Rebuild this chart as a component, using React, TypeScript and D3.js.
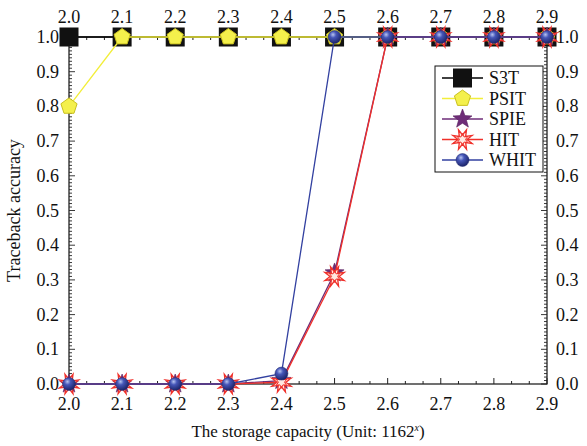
import React from "react";
import * as d3 from "d3";

const capacities = [2.0, 2.1, 2.2, 2.3, 2.4, 2.5, 2.6, 2.7, 2.8, 2.9];
const s3t = [1, 1, 1, 1, 1, 1, 1, 1, 1, 1];
const psit = [0.8, 1, 1, 1, 1, 1, 1, 1, 1, 1];
const spie = [0, 0, 0, 0, 0.01, 0.32, 1, 1, 1, 1];
const hit = [0, 0, 0, 0, 0.005, 0.31, 1, 1, 1, 1];
const whit = [0, 0, 0, 0, 0.03, 1, 1, 1, 1, 1];
const xTickLabels = ["2.0", "2.1", "2.2", "2.3", "2.4", "2.5", "2.6", "2.7", "2.8", "2.9"];
const yTickLabels = ["0.0", "0.1", "0.2", "0.3", "0.4", "0.5", "0.6", "0.7", "0.8", "0.9", "1.0"];
const seriesNames = ["S3T", "PSIT", "SPIE", "HIT", "WHIT"];

const W = 587;
const H = 446;
const left = 69;
const right = 547;
const top = 37;
const bottom = 384;
const FONT = "Liberation Serif, Times New Roman, serif";

const x = d3.scaleLinear().domain([2.0, 2.9]).range([left, right]);
const y = d3.scaleLinear().domain([0, 1]).range([bottom, top]);

type Kind = "square" | "pentagon" | "star" | "burst" | "sphere";

const series: { name: string; values: number[]; color: string; kind: Kind }[] = [
  { name: seriesNames[0], values: s3t, color: "#000000", kind: "square" },
  { name: seriesNames[1], values: psit, color: "#f2ee3a", kind: "pentagon" },
  { name: seriesNames[2], values: spie, color: "#6e2d78", kind: "star" },
  { name: seriesNames[3], values: hit, color: "#f0302a", kind: "burst" },
  { name: seriesNames[4], values: whit, color: "#3240a0", kind: "sphere" },
];

function starPoints(n: number, rOuter: number, rInner: number, rot = -Math.PI / 2) {
  const pts: [number, number][] = [];
  for (let i = 0; i < n * 2; i++) {
    const r = i % 2 === 0 ? rOuter : rInner;
    const a = rot + (i * Math.PI) / n;
    pts.push([r * Math.cos(a), r * Math.sin(a)]);
  }
  return pts.map((p) => p.join(",")).join(" ");
}

function Marker({ kind, cx, cy }: { kind: Kind; cx: number; cy: number }) {
  const t = `translate(${cx},${cy})`;
  switch (kind) {
    case "square":
      return <rect x={cx - 9.5} y={cy - 9.5} width={19} height={19} fill="#111" />;
    case "pentagon":
      return (
        <polygon
          transform={t}
          points={d3
            .range(5)
            .map((i) => {
              const a = -Math.PI / 2 + (i * 2 * Math.PI) / 5;
              return `${8.5 * Math.cos(a)},${8.5 * Math.sin(a)}`;
            })
            .join(" ")}
          fill="#f4f04c"
          stroke="#c9c020"
          strokeWidth={1}
        />
      );
    case "star":
      return <polygon transform={t} points={starPoints(5, 10, 4.2)} fill="#6e2d78" stroke="#5a2060" strokeWidth={0.6} />;
    case "burst":
      return (
        <g transform={t}>
          <polygon points={starPoints(8, 10.5, 4.5, -Math.PI / 2 + Math.PI / 8)} fill="#ffe8e0" stroke="#f0302a" strokeWidth={1.3} />
          <polygon points={starPoints(6, 6, 3)} fill="none" stroke="#f0302a" strokeWidth={1} />
        </g>
      );
    case "sphere":
      return <circle cx={cx} cy={cy} r={6.5} fill="url(#sphereGrad)" stroke="#1e2870" strokeWidth={0.5} />;
  }
}

const textStyle: React.CSSProperties = { fontFamily: FONT };

export default function App() {
  const line = d3
    .line<number>()
    .x((_, i) => x(capacities[i]))
    .y((v) => y(v));

  const xMinor = d3.range(0, 28).map((i) => 2.0 + (i * 0.1) / 3);
  const yMinor = d3.range(0, 101).map((i) => i / 100);

  const tickColor = "#222";

  return (
    <svg
      width={W}
      height={H}
      style={{ position: "absolute", left: 0, top: 0, background: "#fff", fontFamily: FONT }}
    >
      <defs>
        <radialGradient id="sphereGrad" cx="0.38" cy="0.32" r="0.7">
          <stop offset="0" stopColor="#b8c4f0" />
          <stop offset="0.35" stopColor="#4656b8" />
          <stop offset="1" stopColor="#1a2266" />
        </radialGradient>
      </defs>
      <rect x={0} y={0} width={W} height={H} fill="#fff" />

      {/* frame */}
      <rect x={left} y={top} width={right - left} height={bottom - top} fill="none" stroke="#111" strokeWidth={1.2} />

      {/* x ticks, bottom and top, pointing inward */}
      {xMinor.map((v, i) => {
        const major = i % 3 === 0;
        const len = major ? 6 : 3;
        const px = x(v);
        return (
          <g key={`xt${i}`} stroke={tickColor} strokeWidth={1}>
            <line x1={px} x2={px} y1={bottom} y2={bottom - len} />
            <line x1={px} x2={px} y1={top} y2={top + len} />
          </g>
        );
      })}
      {/* y ticks, left and right */}
      {yMinor.map((v, i) => {
        const major = i % 10 === 0;
        const len = major ? 6 : 3;
        const py = y(v);
        return (
          <g key={`yt${i}`} stroke={tickColor} strokeWidth={0.9}>
            <line x1={left} x2={left + len} y1={py} y2={py} />
            <line x1={right} x2={right - len} y1={py} y2={py} />
          </g>
        );
      })}

      {/* tick labels */}
      {xTickLabels.map((s, i) => (
        <g key={`xl${i}`} fontSize={18} fill="#111" textAnchor="middle">
          <text style={textStyle} x={x(capacities[i])} y={bottom + 26}>{s}</text>
          <text style={textStyle} x={x(capacities[i])} y={top - 14}>{s}</text>
        </g>
      ))}
      {yTickLabels.map((s, i) => (
        <g key={`yl${i}`} fontSize={18} fill="#111">
          <text style={textStyle} x={left - 10} y={y(i / 10) + 6} textAnchor="end">{s}</text>
          <text style={textStyle} x={right + 9} y={y(i / 10) + 6} textAnchor="start">{s}</text>
        </g>
      ))}

      {/* axis titles */}
      <text style={textStyle} x={(left + right) / 2} y={437} fontSize={17} textAnchor="middle" fill="#111">
        The storage capacity (Unit: 1162
        <tspan fontSize={10} dy={-6} fontStyle="italic">x</tspan>
        <tspan dy={6}>)</tspan>
      </text>
      <text
        style={textStyle}
        transform={`translate(20,${(top + bottom) / 2}) rotate(-90)`}
        fontSize={18}
        textAnchor="middle"
        fill="#111"
      >
        Traceback accuracy
      </text>

      {/* series */}
      {series.map((s) => (
        <g key={s.name}>
          <path d={line(s.values) || ""} fill="none" stroke={s.color} strokeWidth={1.3} />
          {s.values.map((v, i) => (
            <Marker key={i} kind={s.kind} cx={x(capacities[i])} cy={y(v)} />
          ))}
        </g>
      ))}

      {/* legend */}
      <g>
        <rect x={435} y={66} width={108} height={106} fill="#fff" stroke="#111" strokeWidth={1} />
        {series.map((s, i) => {
          const ly = 78 + i * 20.5;
          return (
            <g key={`lg${s.name}`}>
              <line x1={442} x2={483} y1={ly} y2={ly} stroke={s.color} strokeWidth={1.3} />
              <Marker kind={s.kind} cx={462.5} cy={ly} />
              <text style={textStyle} x={489} y={ly + 6} fontSize={18} fill="#111">{s.name}</text>
            </g>
          );
        })}
      </g>
    </svg>
  );
}
